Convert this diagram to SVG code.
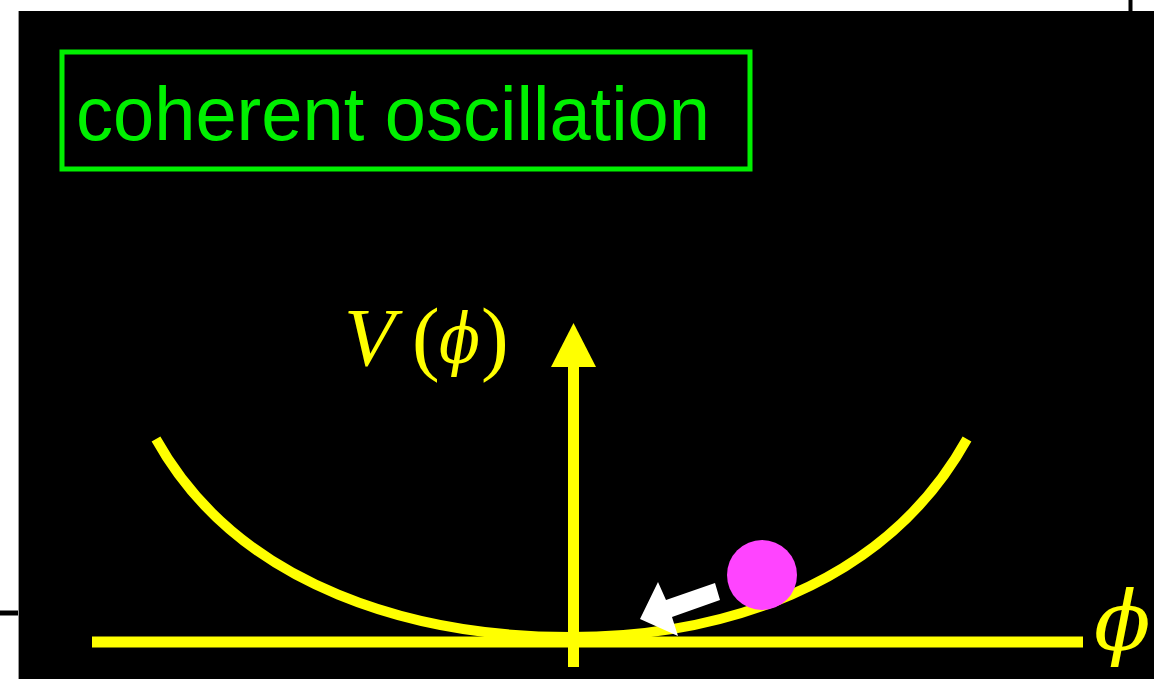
<svg xmlns="http://www.w3.org/2000/svg" width="1154" height="679" viewBox="0 0 1154 679">
  <style>
    .yl { stroke: #ffff00; fill: none; }
    .math { font-family: "DejaVu Serif", "Liberation Serif", serif; fill: #ffff00; }
    .rm { font-family: "Liberation Serif", "Times New Roman", serif; fill: #ffff00; }
  </style>
  <rect x="0" y="0" width="1154" height="679" fill="#ffffff"/>
  <g id="frame">
    <rect x="18" y="11" width="1136" height="668" fill="#000000"/>
    <line x1="18.5" y1="11" x2="18.5" y2="679" stroke="#999999" stroke-width="1"/>
    <line x1="1130.5" y1="0" x2="1130.5" y2="11" stroke="#000000" stroke-width="4"/>
    <line x1="0" y1="613" x2="18" y2="613" stroke="#000000" stroke-width="5"/>
  </g>
  <g id="title">
    <rect x="62" y="52" width="688" height="117" fill="none" stroke="#00f000" stroke-width="5"/>
    <text x="76" y="140" font-family="Liberation Sans, Arial, sans-serif" font-size="76" fill="#00f000" textLength="634" lengthAdjust="spacingAndGlyphs">coherent oscillation</text>
  </g>
  <g id="potential">
    <path class="yl" stroke-width="10" d="M156,439 C240,590 420,637 570,637 C715,637 883,590 967,439"/>
  </g>
  <g id="connectors">
    <line class="yl" x1="92" y1="642" x2="1083" y2="642" stroke-width="11"/>
    <line class="yl" x1="573.5" y1="667" x2="573.5" y2="360" stroke-width="11"/>
    <polygon points="573.5,323 596,367 551,367" fill="#ffff00"/>
  </g>
  <g id="labels">
    <text class="rm" x="344" y="365" font-size="83" font-style="italic">V</text>
    <text class="rm" x="412" y="365" font-size="83">(</text>
    <text class="math" transform="translate(439,363) scale(0.86,1)" x="0" y="0" font-size="70" font-style="italic">ϕ</text>
    <text class="rm" x="481" y="365" font-size="83">)</text>
    <text class="math" x="1094" y="650" font-size="83" font-style="italic">ϕ</text>
  </g>
  <g id="ball">
    <polygon points="640,619 658,582 666,600 715,583 720,600 672,617 678,636" fill="#ffffff"/>
    <circle cx="762" cy="575" r="35" fill="#ff44ff"/>
  </g>
</svg>
